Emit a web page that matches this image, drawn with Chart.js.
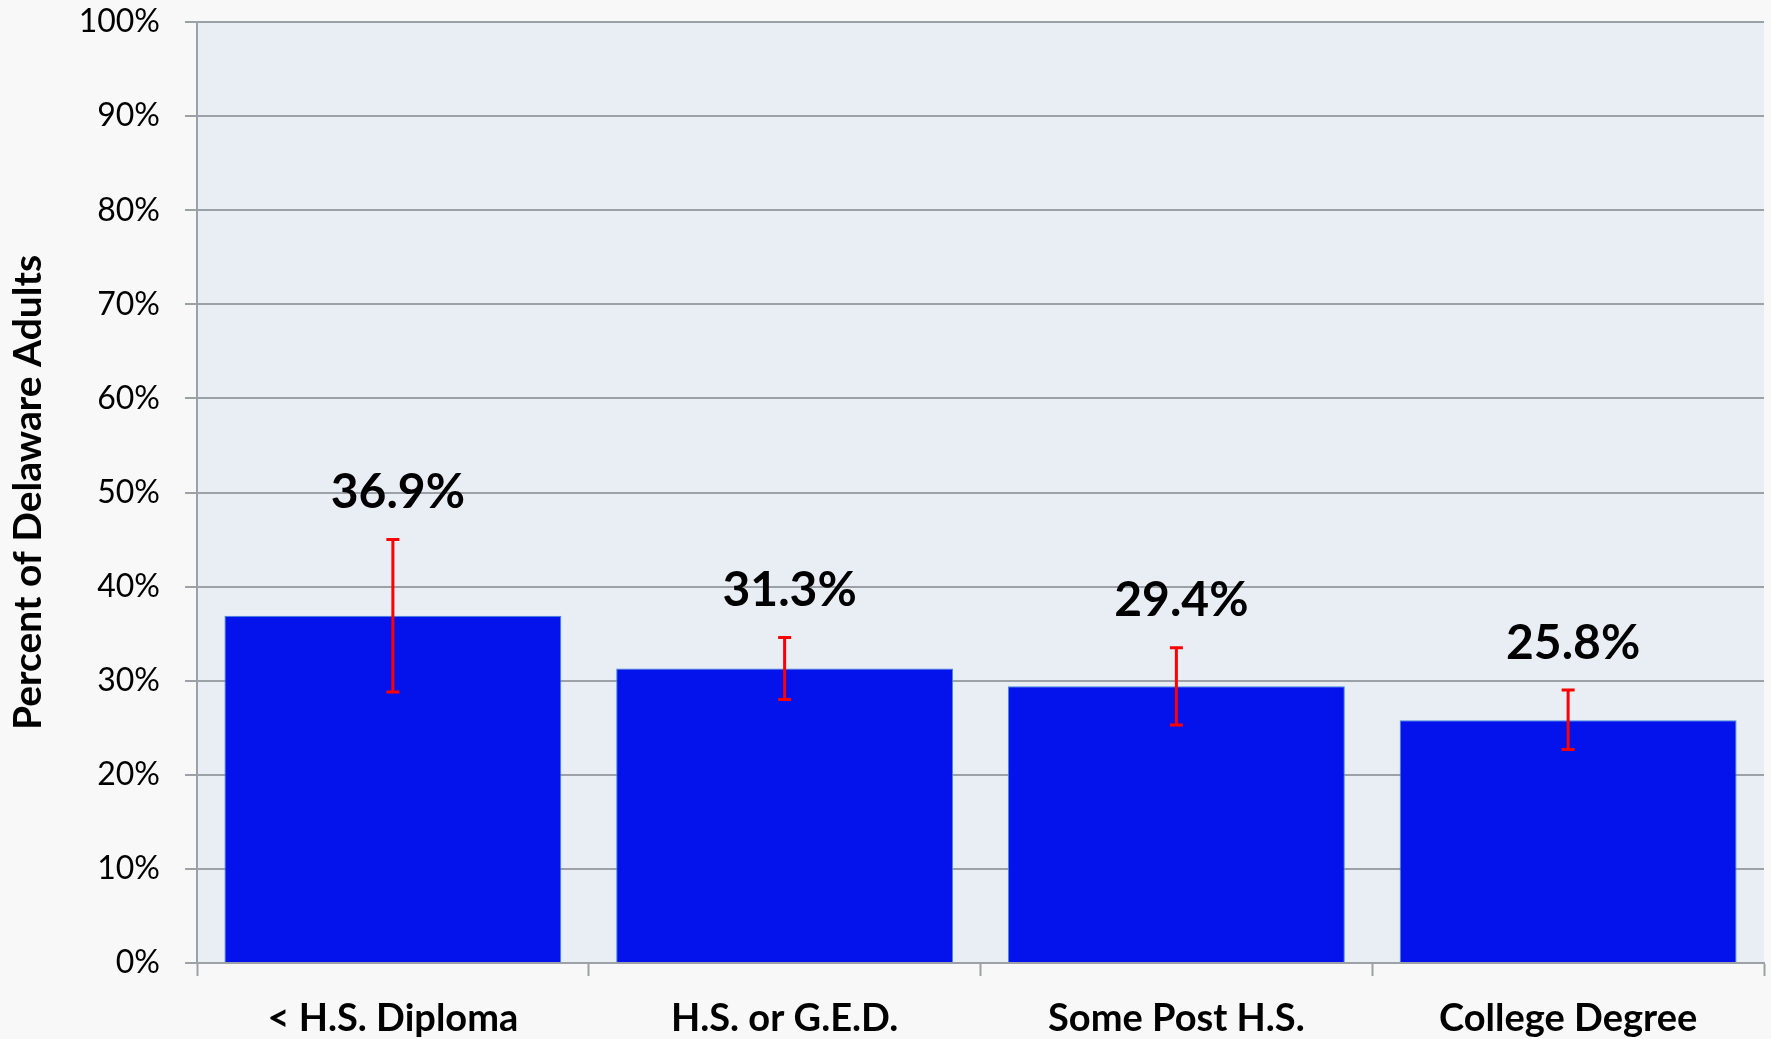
<!DOCTYPE html>
<html>
<head>
<meta charset="utf-8">
<title>Percent of Delaware Adults by Education</title>
<script src="https://cdn.jsdelivr.net/npm/chart.js@4"></script>
<style>
  html, body { margin: 0; padding: 0; background: #f8f8f8; }
  #wrap { width: 1771px; height: 1039px; }
</style>
</head>
<body>
<div id="wrap"><canvas id="eduChart" width="1771" height="1039"></canvas></div>
<script>
// ================= DATA =================
const categories = ['< H.S. Diploma', 'H.S. or G.E.D.', 'Some Post H.S.', 'College Degree'];
const values = [36.9, 31.3, 29.4, 25.8];
const errLow = [28.8, 28.0, 25.3, 22.7];
const errHigh = [45.0, 34.6, 33.5, 29.0];
const yTicks = [0, 10, 20, 30, 40, 50, 60, 70, 80, 90, 100];

const FONT = 'Lato, "Open Sans", sans-serif';
const GRID = '#9ca1a7';

// ================= PLUGINS =================
// page + plot area background
const backdrop = {
  id: 'backdrop',
  beforeDraw(chart) {
    const { ctx, chartArea: a } = chart;
    ctx.save();
    ctx.fillStyle = '#f8f8f8';
    ctx.fillRect(0, 0, chart.width, chart.height);
    ctx.fillStyle = '#e9edf4';
    ctx.fillRect(a.left, a.top, a.right - a.left, a.bottom - a.top);
    ctx.restore();
  }
};

// red error bars and the bold value labels
const errorBars = {
  id: 'errorBars',
  afterDatasetsDraw(chart) {
    const { ctx } = chart;
    const y = chart.scales.y;
    const meta = chart.getDatasetMeta(0);
    ctx.save();
    meta.data.forEach((bar, i) => {
      const x = bar.x;
      const top = y.getPixelForValue(errHigh[i]);
      const bot = y.getPixelForValue(errLow[i]);
      ctx.strokeStyle = '#ff0000';
      ctx.lineWidth = 3;
      ctx.beginPath();
      ctx.moveTo(x, top); ctx.lineTo(x, bot);
      ctx.moveTo(x - 6.5, top); ctx.lineTo(x + 6.5, top);
      ctx.moveTo(x - 6.5, bot); ctx.lineTo(x + 6.5, bot);
      ctx.stroke();

      ctx.fillStyle = '#000';
      ctx.font = 'bold 48px ' + FONT;
      ctx.textAlign = 'center';
      ctx.textBaseline = 'middle';
      ctx.fillText(values[i].toFixed(1) + '%', x + 5, top - 47);
    });
    ctx.restore();
  }
};

// ================= CHART =================
new Chart(document.getElementById('eduChart'), {
  type: 'bar',
  data: {
    labels: categories,
    datasets: [{
      data: values,
      backgroundColor: '#0412ec',
      borderColor: '#3d8fd6',
      borderWidth: 1,
      categoryPercentage: 1,
      barPercentage: 0.86
    }]
  },
  options: {
    responsive: false,
    animation: false,
    layout: { padding: { top: 22, right: 7, left: 0, bottom: 0 } },
    plugins: {
      legend: { display: false },
      tooltip: { enabled: false }
    },
    scales: {
      x: {
        offset: true,
        afterFit(s) {
          s.height = 76;
          s.paddingLeft = 0;
          s.paddingRight = 0;
        },
        grid: {
          offset: true,
          drawOnChartArea: false,
          drawTicks: true,
          tickLength: 13,
          tickColor: GRID,
          tickWidth: 2
        },
        border: { color: GRID, width: 2 },
        ticks: {
          color: '#000',
          padding: 20,
          font: { family: FONT, size: 38, weight: 'bold' }
        }
      },
      y: {
        min: 0,
        max: 100,
        afterFit(s) {
          s.width = 197;
          s.paddingTop = 0;
          s.paddingBottom = 0;
        },
        afterBuildTicks(s) { s.ticks = yTicks.map(v => ({ value: v })); },
        grid: {
          color: GRID,
          lineWidth: 2,
          tickLength: 12
        },
        border: { color: GRID, width: 2 },
        ticks: {
          color: '#000',
          padding: 25,
          font: { family: FONT, size: 32 },
          callback: v => v + '%'
        },
        title: {
          display: true,
          text: 'Percent of Delaware Adults',
          color: '#000',
          padding: { top: 5, bottom: 0 },
          font: { family: FONT, size: 39, weight: 'bold' }
        }
      }
    }
  },
  plugins: [backdrop, errorBars]
});
</script>
</body>
</html>
